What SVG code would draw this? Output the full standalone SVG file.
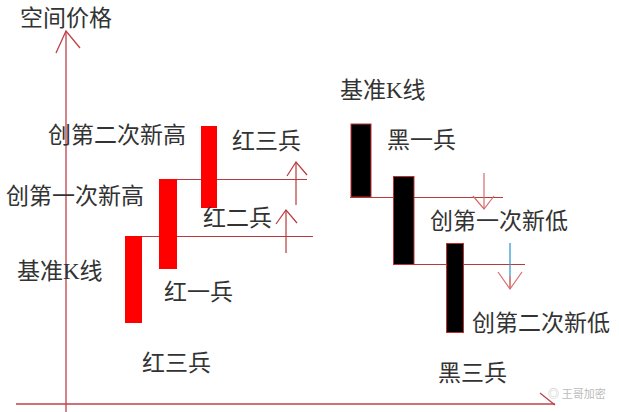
<svg xmlns="http://www.w3.org/2000/svg" width="619" height="412" viewBox="0 0 619 412">
<style>
  text { font-family: "Liberation Serif", "Noto Sans CJK SC", serif; font-size: 23px; fill: #333; }
  .ax { stroke: #c0404a; stroke-width: 1.3; fill: none; }
  .ln { stroke: #b83a3a; stroke-width: 1; fill: none; }
  .ar { stroke: #b83a3a; stroke-width: 1.2; fill: none; }
  .arl { stroke: #d86a6a; stroke-width: 1.2; fill: none; }
  .red { fill: #ff0000; }
  .blk { fill: #000; stroke: #c03030; stroke-width: 1; }
</style>
<rect width="619" height="412" fill="#fff"/>
<g id="axes">
  <line class="ax" x1="66" y1="31" x2="66" y2="412"/>
  <polyline class="ax" points="56,53 66,31 80,48"/>
  <line class="ax" x1="16" y1="404" x2="555" y2="404"/>
  <polyline class="ax" points="540,393 555,405"/>
  <text x="20" y="26">空间价格</text>
</g>
<g id="connectors">
  <line class="ln" x1="142" y1="236.5" x2="313" y2="236.5"/>
  <line class="ln" x1="177" y1="179.5" x2="307" y2="179.5"/>
  <line class="ar" x1="296" y1="205" x2="296" y2="162"/>
  <polyline class="ar" points="287,176 296,162 307,175"/>
  <line class="ar" x1="286" y1="253" x2="286" y2="210"/>
  <polyline class="ar" points="276,224 286,210 297,223"/>
  <line class="ln" x1="350" y1="197.5" x2="503" y2="197.5"/>
  <line class="ln" x1="393" y1="264.5" x2="525" y2="264.5"/>
  <line class="arl" x1="484" y1="173" x2="484" y2="209"/>
  <polyline class="arl" points="473,196 484,209 494,196"/>
  <line x1="510" y1="243" x2="510" y2="276" stroke="#3a9ad0" stroke-width="1.3"/>
  <line class="ar" x1="510" y1="276" x2="510" y2="289"/>
  <polyline class="arl" points="498,272 510,289 522,272"/>
</g>
<g id="red-base"><rect class="red" x="125" y="236" width="17" height="87"/><text x="17" y="279">基准K线</text></g>
<g id="red-1"><rect class="red" x="159" y="179" width="18" height="90"/><text x="164" y="300">红一兵</text></g>
<g id="red-2"><rect class="red" x="201" y="126" width="16" height="82"/><text x="203" y="226">红二兵</text></g>
<g id="label-high1"><text x="6" y="204">创第一次新高</text></g>
<g id="label-high2"><text x="48" y="143">创第二次新高</text></g>
<g id="label-red3top"><text x="232" y="149">红三兵</text></g>
<g id="label-red3"><text x="142" y="371">红三兵</text></g>
<g id="black-base"><rect class="blk" x="351" y="124" width="20" height="73"/><text x="340" y="98">基准K线</text></g>
<g id="black-1"><rect class="blk" x="393.5" y="176.5" width="20.5" height="88"/><text x="387" y="148">黑一兵</text></g>
<g id="black-2"><rect class="blk" x="446.5" y="243.5" width="17" height="89"/></g>
<g id="label-low1"><text x="430" y="229">创第一次新低</text></g>
<g id="label-low2"><text x="472" y="331">创第二次新低</text></g>
<g id="label-black3"><text x="438" y="381">黑三兵</text></g>
<g id="watermark"><text x="548" y="398" style="font-size:11px;fill:#bbb;">◎ 王哥加密</text></g>
</svg>
